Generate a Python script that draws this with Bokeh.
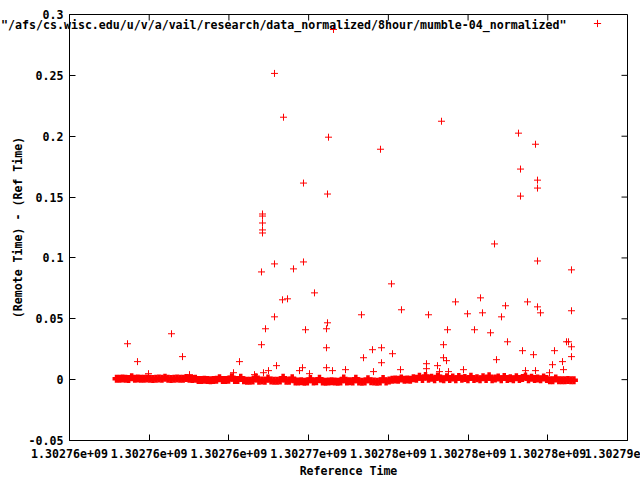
from bokeh.plotting import figure
from bokeh.models import Range1d, FixedTicker, Label, Legend, LegendItem
from bokeh.core.properties import value
from bokeh.embed import file_html
from bokeh.resources import INLINE

FONT = "DejaVu Sans Mono"
FSIZE = "11.6px"
RED = "#ff0000"

series_name = '"/afs/cs.wisc.edu/u/v/a/vail/research/data_normalized/8hour/mumble-04_normalized"'
x_title = "Reference Time"
y_title = "(Remote Time) - (Ref Time)"

x_ticks = [1302755000, 1302760000, 1302765000, 1302770000,
           1302775000, 1302780000, 1302785000, 1302790000]
x_tick_labels = ["1.30276e+09", "1.30276e+09", "1.30276e+09", "1.30277e+09",
                 "1.30278e+09", "1.30278e+09", "1.30278e+09", "1.30279e"]
y_ticks = [-0.05, 0.0, 0.05, 0.1, 0.15, 0.2, 0.25, 0.3]
y_tick_labels = ["-0.05", "0", "0.05", "0.1", "0.15", "0.2", "0.25", "0.3"]

# dense band of samples close to zero
band_time = [
    1302757950, 1302758140, 1302758330, 1302758520, 1302758710, 1302758900, 1302759090, 1302759280, 1302759470, 1302759660,
    1302759850, 1302760040, 1302760230, 1302760420, 1302760610, 1302760800, 1302760990, 1302761180, 1302761370, 1302761560,
    1302761750, 1302761940, 1302762130, 1302762320, 1302762510, 1302762700, 1302762890, 1302763080, 1302763270, 1302763460,
    1302763650, 1302763840, 1302764030, 1302764220, 1302764410, 1302764600, 1302764790, 1302764980, 1302765170, 1302765360,
    1302765550, 1302765740, 1302765930, 1302766120, 1302766310, 1302766500, 1302766690, 1302766880, 1302767070, 1302767260,
    1302767450, 1302767640, 1302767830, 1302768020, 1302768210, 1302768400, 1302768590, 1302768780, 1302768970, 1302769160,
    1302769350, 1302769540, 1302769730, 1302769920, 1302770110, 1302770300, 1302770490, 1302770680, 1302770870, 1302771060,
    1302771250, 1302771440, 1302771630, 1302771820, 1302772010, 1302772200, 1302772390, 1302772580, 1302772770, 1302772960,
    1302773150, 1302773340, 1302773530, 1302773720, 1302773910, 1302774100, 1302774290, 1302774480, 1302774670, 1302774860,
    1302775050, 1302775240, 1302775430, 1302775620, 1302775810, 1302776000, 1302776190, 1302776380, 1302776570, 1302776760,
    1302776950, 1302777140, 1302777330, 1302777520, 1302777710, 1302777900, 1302778090, 1302778280, 1302778470, 1302778660,
    1302778850, 1302779040, 1302779230, 1302779420, 1302779610, 1302779800, 1302779990, 1302780180, 1302780370, 1302780560,
    1302780750, 1302780940, 1302781130, 1302781320, 1302781510, 1302781700, 1302781890, 1302782080, 1302782270, 1302782460,
    1302782650, 1302782840, 1302783030, 1302783220, 1302783410, 1302783600, 1302783790, 1302783980, 1302784170, 1302784360,
    1302784550, 1302784740, 1302784930, 1302785120, 1302785310, 1302785500, 1302785690, 1302785880, 1302786070, 1302786260,
    1302786450, 1302786640,
]
band_delta = [
    0.0008, 0.0008, 0.0010, 0.0008, 0.0006, 0.0020, 0.0008, 0.0010, 0.0008, 0.0008,
    0.0010, 0.0008, 0.0006, 0.0008, 0.0010, 0.0008, 0.0016, 0.0008, 0.0006, 0.0008,
    0.0010, 0.0008, 0.0008, 0.0014, 0.0008, 0.0006, 0.0008, -0.0002, -0.0002, 0.0000,
    -0.0002, -0.0004, -0.0002, 0.0000, 0.0012, -0.0002, -0.0002, 0.0000, 0.0020, -0.0002,
    -0.0002, 0.0016, -0.0004, -0.0010, -0.0010, -0.0008, 0.0020, -0.0010, -0.0008, -0.0010,
    0.0010, -0.0008, -0.0010, -0.0010, -0.0008, 0.0016, -0.0010, -0.0010, 0.0012, -0.0016,
    -0.0016, -0.0014, -0.0018, -0.0016, 0.0006, -0.0016, -0.0014, 0.0008, -0.0016, -0.0018,
    -0.0016, -0.0014, -0.0016, -0.0018, -0.0016, 0.0010, -0.0016, -0.0014, -0.0016, 0.0008,
    -0.0016, -0.0018, -0.0016, 0.0004, -0.0014, -0.0016, -0.0018, -0.0016, 0.0006, -0.0016,
    -0.0008, 0.0000, 0.0002, 0.0000, 0.0010, 0.0000, 0.0002, 0.0000, 0.0012, 0.0008,
    0.0024, 0.0006, 0.0030, 0.0008, 0.0016, 0.0004, 0.0026, 0.0010, 0.0004, 0.0020,
    0.0006, 0.0018, 0.0004, 0.0022, 0.0008, 0.0014, 0.0004, 0.0024, 0.0006, 0.0012,
    0.0004, 0.0020, 0.0006, 0.0028, 0.0004, 0.0010, 0.0018, 0.0004, 0.0022, 0.0006,
    0.0012, 0.0004, 0.0020, 0.0006, 0.0014, 0.0026, 0.0004, 0.0016, 0.0006, 0.0010,
    0.0004, 0.0018, 0.0006, -0.0004, -0.0004, 0.0010, -0.0006, -0.0004, -0.0004, -0.0002,
    -0.0004, -0.0004,
]

# isolated larger offsets
outlier_time = [
    1302758638, 1302759265, 1302759955, 1302761398, 1302762088, 1302762527, 1302765287, 1302765663,
    1302766604, 1302767043, 1302767043, 1302767106, 1302767106, 1302767106, 1302767106, 1302767106,
    1302767168, 1302767294, 1302767482, 1302767858, 1302767858, 1302767858, 1302767984, 1302768423,
    1302768360, 1302768674, 1302769050, 1302769427, 1302769615, 1302769677, 1302769677, 1302769803,
    1302770054, 1302770367, 1302771183, 1302771246, 1302771559, 1302771183, 1302771120, 1302771120,
    1302771120, 1302771496, 1302772312, 1302773315, 1302773441, 1302774005, 1302774570, 1302774570,
    1302774507, 1302775197, 1302775260, 1302775762, 1302775824, 1302777392, 1302777392, 1302777518,
    1302778082, 1302778333, 1302778459, 1302778459, 1302778647, 1302778710, 1302779211, 1302779964,
    1302780403, 1302780780, 1302780905, 1302781407, 1302781658, 1302781783, 1302782097, 1302782348,
    1302782473, 1302783163, 1302783289, 1302783289, 1302783414, 1302783728, 1302784104, 1302784229,
    1302784355, 1302784355, 1302784355, 1302784355, 1302784543, 1302785421, 1302785296, 1302785923,
    1302786174, 1302786299, 1302786487, 1302786487, 1302786487, 1302786487, 1302785986, 1302785108,
    1302784229, 1302783602, 1302779713, 1302778772, 1302778208, 1302774068,
]
outlier_delta = [
    0.0295, 0.0148, 0.0049, 0.0377, 0.0189, 0.0041, 0.0057, 0.0148,
    0.0041, 0.0287, 0.0885, 0.1361, 0.1344, 0.1287, 0.1230, 0.1205,
    0.0057, 0.0418, 0.0074, 0.2516, 0.0951, 0.0516, 0.0115, 0.2156,
    0.0656, 0.0664, 0.0910, 0.0074, 0.0098, 0.1615, 0.0967, 0.0410,
    0.0049, 0.0713, 0.1525, 0.1992, 0.2877, 0.0467, 0.0418, 0.0262,
    0.0098, 0.0074, 0.0082, 0.0533, 0.0180, 0.0246, 0.0262, 0.0139,
    0.1893, 0.0787, 0.0213, 0.0082, 0.0574, 0.0131, 0.0090, 0.0533,
    0.0115, 0.2123, 0.0287, 0.0180, 0.0156, 0.0410, 0.0639, 0.0541,
    0.0410, 0.0672, 0.0549, 0.0385, 0.1115, 0.0164, 0.0516, 0.0607,
    0.0311, 0.2025, 0.1730, 0.1508, 0.0238, 0.0639, 0.0205, 0.1934,
    0.1639, 0.1574, 0.0975, 0.0598, 0.0549, 0.0238, 0.0123, 0.0148,
    0.0311, 0.0311, 0.0270, 0.0189, 0.0566, 0.0902, 0.0082, 0.0057,
    0.0074, 0.0074, 0.0082, 0.0066, 0.0066, 0.0066,
]

p = figure(width=640, height=480, output_backend="svg", toolbar_location=None,
           x_range=Range1d(x_ticks[0], x_ticks[-1]),
           y_range=Range1d(y_ticks[0], y_ticks[-1]),
           min_border_left=69, min_border_right=13, min_border_top=13, min_border_bottom=40)
p.background_fill_color = "white"
p.border_fill_color = "white"
p.outline_line_color = "black"
p.outline_line_width = 1
p.grid.visible = False

band_r = p.scatter(band_time, band_delta, marker="cross", size=8,
                   line_color=RED, line_width=3.5)
out_r = p.scatter(outlier_time, outlier_delta, marker="cross", size=7,
                  line_color=RED, line_width=1)

# mirrored inward ticks on the top and right borders
p.ray(x=x_ticks, y=[y_ticks[-1]] * len(x_ticks), length=6, length_units="screen",
      angle=-90, angle_units="deg", line_color="black", line_width=1)
p.ray(x=[x_ticks[-1]] * len(y_ticks), y=y_ticks, length=6, length_units="screen",
      angle=180, angle_units="deg", line_color="black", line_width=1)

def style_axis(ax):
    ax.major_tick_in = 6
    ax.major_tick_out = 0
    ax.minor_tick_in = 0
    ax.minor_tick_out = 0
    ax.axis_line_color = "black"
    ax.major_tick_line_color = "black"
    ax.major_label_text_font = FONT
    ax.major_label_text_font_style = "bold"
    ax.major_label_text_font_size = FSIZE
    ax.major_label_text_color = "black"
    ax.axis_label_text_font = FONT
    ax.axis_label_text_font_style = "bold"
    ax.axis_label_text_font_size = FSIZE
    ax.axis_label_text_color = "black"

xax = p.xaxis[0]
xax.ticker = FixedTicker(ticks=x_ticks)
xax.major_label_overrides = dict(zip(x_ticks, x_tick_labels))
style_axis(xax)
xax.major_label_standoff = 8
xax.axis_label = x_title
xax.axis_label_standoff = 3

yax = p.yaxis[0]
yax.ticker = FixedTicker(ticks=y_ticks)
yax.major_label_overrides = dict(zip(y_ticks, y_tick_labels))
style_axis(yax)
yax.major_label_standoff = 6
yax.axis_label = y_title
yax.axis_label_standoff = 1

# key text (sits in the top panel so it is not clipped by the frame)
key_text = Label(x=497, y=-10, x_units="screen", y_units="screen", text=series_name,
                 text_align="right", text_baseline="middle", text_font=FONT,
                 text_font_style="bold", text_font_size=FSIZE, text_color="black")
p.add_layout(key_text, "above")

legend = Legend(items=[LegendItem(label=value(""), renderers=[out_r])],
                location=(519, 408), padding=0, margin=0, spacing=0,
                label_standoff=0, label_width=0, label_height=0,
                glyph_width=18, glyph_height=18,
                border_line_alpha=0, background_fill_alpha=0)
p.add_layout(legend)

open("out.html", "w").write(file_html(p, INLINE))
